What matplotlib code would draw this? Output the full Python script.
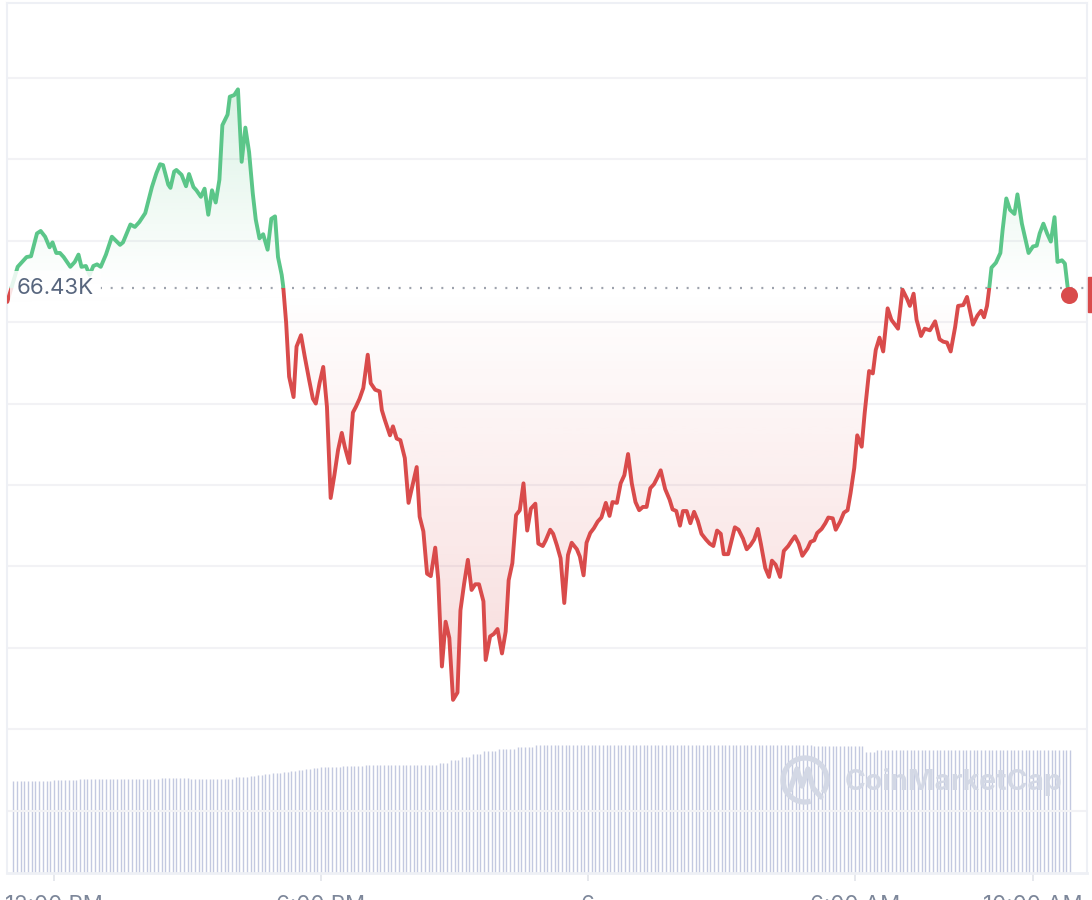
import numpy as np
import matplotlib
matplotlib.use("Agg")
import matplotlib.pyplot as plt
import matplotlib.transforms as mtransforms
from matplotlib.path import Path
from matplotlib.patches import Rectangle, Arc
from matplotlib.colors import to_rgb

plt.rcParams["font.family"] = ["Inter", "DejaVu Sans"]

# time in minutes after 12:00 PM, price in USD
minutes = [-63, -49, -37, -31, -23, -18, -12, -6, -2, 3, 8, 13, 22, 28, 33, 37, 43, 48, 53, 58,
           63, 70, 78, 89, 93, 103, 109, 115, 123, 132, 138, 143, 147, 154, 157, 162, 165, 172, 178, 182,
           188, 192, 198, 203, 208, 213, 218, 223, 227, 234, 237, 243, 248, 253, 258, 263, 268, 272, 277, 282,
           288, 293, 298, 302, 307, 309, 313, 317, 323, 327, 333, 338, 344, 349, 353, 358, 363, 368, 373, 378,
           383, 388, 392, 398, 403, 407, 412, 417, 423, 427, 433, 439, 442, 446, 453, 457, 462, 467, 473, 478,
           484, 489, 493, 498, 503, 508, 514, 518, 523, 528, 533, 538, 544, 548, 553, 558, 563, 568, 573, 579,
           582, 588, 593, 598, 604, 609, 613, 618, 623, 628, 633, 638, 643, 649, 653, 659, 663, 669, 673, 678,
           683, 688, 693, 698, 705, 709, 714, 718, 723, 728, 733, 738, 744, 749, 753, 759, 764, 769, 774, 779,
           784, 789, 794, 799, 804, 809, 814, 818, 824, 830, 834, 839, 844, 848, 853, 858, 863, 868, 873, 879,
           884, 889, 894, 899, 903, 909, 918, 923, 929, 934, 939, 944, 949, 953, 959, 964, 968, 973, 979, 984,
           990, 995, 999, 1004, 1009, 1016, 1020, 1025, 1029, 1035, 1040, 1044, 1050, 1054, 1060, 1065, 1070, 1074, 1079, 1083,
           1089, 1093, 1099, 1104, 1108, 1113, 1118, 1124, 1129, 1134, 1138, 1144, 1150, 1154, 1159, 1163, 1169, 1174, 1181, 1188,
           1194, 1199, 1204, 1209, 1215, 1219, 1226, 1231, 1239, 1245, 1250, 1254, 1258, 1261, 1264, 1270, 1276, 1279, 1284, 1289,
           1295, 1299, 1305, 1309, 1314, 1320, 1325, 1329, 1334, 1339, 1344, 1349, 1353, 1359, 1363, 1368]
prices = [66413, 66456, 66468, 66469, 66497, 66500, 66493, 66480, 66486, 66473, 66473, 66468, 66456, 66462, 66471, 66456, 66457, 66446, 66457, 66459,
          66456, 66471, 66493, 66483, 66486, 66508, 66505, 66511, 66522, 66554, 66571, 66582, 66581, 66557, 66553, 66573, 66575, 66569, 66555, 66570,
          66554, 66550, 66542, 66552, 66520, 66550, 66535, 66563, 66630, 66643, 66665, 66667, 66674, 66585, 66627, 66597, 66546, 66514, 66491, 66496,
          66477, 66515, 66518, 66468, 66446, 66432, 66387, 66321, 66296, 66358, 66372, 66346, 66317, 66294, 66288, 66313, 66333, 66284, 66172, 66200,
          66231, 66252, 66235, 66215, 66277, 66284, 66294, 66307, 66348, 66313, 66305, 66303, 66280, 66268, 66249, 66260, 66245, 66243, 66221, 66166,
          66190, 66210, 66149, 66131, 66079, 66076, 66111, 66072, 65965, 66020, 66000, 65924, 65933, 66034, 66067, 66096, 66059, 66066, 66066, 66045,
          65973, 66002, 66005, 66011, 65981, 66008, 66071, 66092, 66151, 66157, 66190, 66132, 66159, 66165, 66116, 66113, 66120, 66133, 66128, 66114,
          66098, 66043, 66102, 66117, 66109, 66100, 66077, 66117, 66129, 66135, 66143, 66148, 66166, 66150, 66167, 66166, 66190, 66200, 66226, 66190,
          66167, 66157, 66161, 66161, 66184, 66189, 66198, 66206, 66183, 66170, 66158, 66156, 66138, 66156, 66156, 66141, 66155, 66144, 66128, 66121,
          66116, 66113, 66132, 66128, 66103, 66103, 66136, 66133, 66122, 66109, 66114, 66121, 66134, 66116, 66086, 66075, 66095, 66090, 66075, 66107,
          66113, 66120, 66125, 66116, 66101, 66110, 66118, 66120, 66129, 66134, 66141, 66148, 66147, 66133, 66143, 66154, 66157, 66178, 66209, 66249,
          66235, 66276, 66328, 66325, 66354, 66369, 66352, 66405, 66391, 66385, 66380, 66428, 66417, 66408, 66423, 66391, 66371, 66380, 66378, 66389,
          66367, 66364, 66363, 66352, 66382, 66408, 66409, 66419, 66385, 66396, 66402, 66394, 66408, 66430, 66455, 66461, 66473, 66501, 66540, 66526,
          66521, 66545, 66509, 66493, 66473, 66481, 66482, 66497, 66509, 66497, 66487, 66517, 66462, 66464, 66460, 66421]
open_price = 66430
open_label = "66.43K"
grid_prices = [66688, 66588, 66488, 66388, 66288, 66188, 66088, 65988, 65888, 65788]
tick_minutes = [0, 360, 720, 1080, 1320]
tick_labels = ["12:00 PM", "6:00 PM", "6", "6:00 AM", "10:00 AM"]

# 24h volume (billions USD), one bar every 5 minutes from -55 min
vol_start = -55
vol_levels = [23.0, 23.25, 23.5, 23.75, 23.5, 24.0, 24.1, 24.25, 24.5, 24.75, 25.0, 25.25, 25.5, 25.75,
              26.0, 26.25, 26.5, 26.75, 27.0, 27.5, 28.25, 29.0, 29.75, 30.5, 31.0, 31.5, 32.0, 31.75,
              30.25, 30.75]
vol_counts = [11, 7, 22, 8, 12, 2, 2, 2, 2, 2, 3, 2, 2, 2,
              2, 2, 6, 6, 20, 3, 3, 3, 3, 4, 5, 5, 75, 14,
              3, 53]

GREEN = "#5bc689"
RED = "#d94b4b"

t = np.array(minutes, dtype=float)
p = np.array(prices, dtype=float)
volume = np.repeat(vol_levels, vol_counts)
vol_t = vol_start + 5 * np.arange(len(volume))

x0, x1 = -63.4, 1392.8
y0, y1 = 65711.3, 66780.1

fig = plt.figure(figsize=(10.92, 9), dpi=100)
ax = fig.add_axes([7 / 1092, 27 / 900, 1080 / 1092, 870 / 900])
ax2 = ax.twinx()
ax.set_zorder(ax2.get_zorder() + 1)
ax.patch.set_visible(False)

# volume bars
ax2.vlines(vol_t, 0, volume, color="#c3c9e0", lw=1.0)
ax2.set_ylim(0, 217.5)
ax2.set_yticks([])
for s in ax2.spines.values():
    s.set_visible(False)

# gradient fills between line and open price
poly = np.vstack([np.column_stack([t, p]), [[t[-1], open_price], [t[0], open_price]]])
clip = Path(poly, closed=True)

up = np.zeros((256, 1, 4))
up[..., :3] = to_rgb(GREEN)
up[:, 0, 3] = np.linspace(0.22, 0.0, 256)
im_up = ax.imshow(up, extent=[x0, x1, open_price, p.max()], aspect="auto", origin="upper", zorder=1)
im_up.set_clip_path(clip, ax.transData)

dn = np.zeros((256, 1, 4))
dn[..., :3] = to_rgb(RED)
dn[:, 0, 3] = np.linspace(0.0, 0.2, 256)
im_dn = ax.imshow(dn, extent=[x0, x1, p.min(), open_price], aspect="auto", origin="upper", zorder=1)
im_dn.set_clip_path(clip, ax.transData)

# price line: green above open, red below
above = Rectangle((x0, open_price), x1 - x0, y1 - open_price, transform=ax.transData)
below = Rectangle((x0, y0), x1 - x0, open_price - y0, transform=ax.transData)
l_up, = ax.plot(t, p, color=GREEN, lw=2.8, solid_joinstyle="round", solid_capstyle="round", zorder=3)
l_up.set_clip_path(above)
l_dn, = ax.plot(t, p, color=RED, lw=2.8, solid_joinstyle="round", solid_capstyle="round", zorder=3)
l_dn.set_clip_path(below)
ax.scatter([t[-1]], [p[-1]], s=150, color=RED, zorder=5, clip_on=False, linewidths=0)

# open price reference
ax.plot([62, x1], [open_price, open_price], color="#9ea3ad", lw=1.6, ls=(0, (0.9, 3.9)), zorder=2)
trans = mtransforms.blended_transform_factory(ax.transAxes, ax.transData)
ax.text(0.0093, open_price, open_label, transform=trans, fontsize=16, color="#58667e",
        ha="left", va="center", zorder=4,
        bbox=dict(boxstyle="square,pad=0.3", fc="white", ec="none", alpha=0.85))

ax.set_xlim(x0, x1)
ax.set_ylim(y0, y1)
ax.set_yticks(grid_prices)
ax.tick_params(axis="y", left=False, labelleft=False)
ax.yaxis.grid(True, color="#f2f2f5", lw=1.5)
ax.set_axisbelow(True)
ax.set_xticks(tick_minutes, tick_labels)
ax.tick_params(axis="x", length=6, width=1.3, color="#e4e6ec", labelsize=16,
               labelcolor="#7d879a", pad=10)
for name, s in ax.spines.items():
    s.set_color("#eef0f5")
    s.set_linewidth(1.5)
ax.spines["bottom"].set_linewidth(2)

# price tag stub at right edge
fig.patches.append(Rectangle((1088 / 1092, (900 - 312) / 900), 6 / 1092, 35 / 900,
                             transform=fig.transFigure, color=RED))

# watermark
wm = "#d3d8e5"
px = mtransforms.IdentityTransform()
fig.patches.append(Arc((805, 120), 44, 44, theta1=-35, theta2=285, lw=3.8, color=wm, transform=px))
fig.lines.append(plt.Line2D([790, 797, 802, 808, 813, 821], [110, 131, 114, 131, 112, 103],
                            lw=3.8, color=wm, transform=px, solid_joinstyle="round",
                            solid_capstyle="round"))
fig.text(845 / 1092, 1 - 782 / 900, "CoinMarketCap", fontsize=20.5, fontweight="bold",
         color=wm, va="center", ha="left")

fig.savefig("out.png", dpi=100)
